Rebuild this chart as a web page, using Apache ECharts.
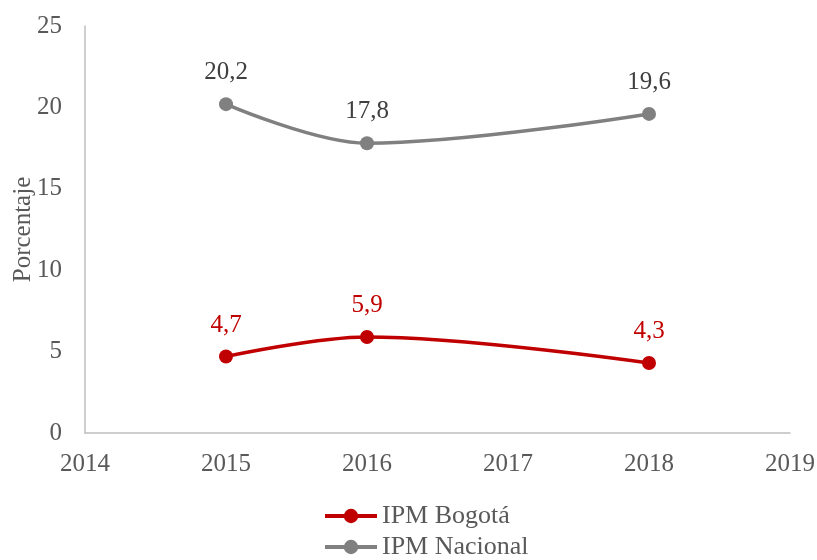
<!DOCTYPE html>
<html><head><meta charset="utf-8">
<script src="https://cdn.jsdelivr.net/npm/echarts@6/dist/echarts.min.js"></script>
<style>html,body{margin:0;padding:0;background:#fff}#c{width:817px;height:560px}</style>
</head><body><div id="c"></div>
<script>
const years = [2015, 2016, 2018];
const bogota = [4.7, 5.9, 4.3];
const nacional = [20.2, 17.8, 19.6];
const seriesNames = ['IPM Bogotá', 'IPM Nacional'];
const xTicks = {min: 2014, max: 2019, interval: 1};
const yTicks = {min: 0, max: 25, interval: 5};

const font = 'Liberation Serif';
const chart = echarts.init(document.getElementById('c'));
function mk(name, vals, color, labelColor) {
  return {
    name: name, type: 'line', smooth: 0.35,
    data: years.map((y, i) => [y, vals[i]]),
    symbol: 'circle', symbolSize: 14,
    lineStyle: {color: color, width: 3.5},
    itemStyle: {color: color},
    label: {show: true, position: 'top', distance: 12, color: labelColor,
      fontFamily: font, fontSize: 25,
      formatter: p => String(p.value[1]).replace('.', ',')}
  };
}
chart.setOption({
  animation: false,
  textStyle: {fontFamily: font},
  grid: {left: 85, right: 27, top: 26, bottom: 127, containLabel: false, outerBoundsMode: 'none'},
  xAxis: {type: 'value', min: xTicks.min, max: xTicks.max, interval: xTicks.interval,
    axisLine: {show: true, lineStyle: {color: '#bfbfbf', width: 1.5}},
    axisTick: {show: false}, splitLine: {show: false},
    axisLabel: {color: '#595959', fontSize: 25, fontFamily: font, margin: 19,
      formatter: v => String(v)}},
  yAxis: {type: 'value', min: yTicks.min, max: yTicks.max, interval: yTicks.interval,
    name: 'Porcentaje', nameLocation: 'middle', nameGap: 49, nameRotate: 90,
    nameMoveOverlap: false,
    nameTextStyle: {color: '#595959', fontSize: 25, fontFamily: font},
    axisLine: {show: true, lineStyle: {color: '#bfbfbf', width: 1.5}},
    axisTick: {show: false}, splitLine: {show: false},
    axisLabel: {color: '#595959', fontSize: 25, fontFamily: font, margin: 23}},
  legend: {orient: 'vertical', left: 323, top: 503, height: 120, itemGap: 5,
    itemWidth: 52, itemHeight: 18, padding: 0,
    lineStyle: {width: 4},
    textStyle: {color: '#595959', fontSize: 26, fontFamily: font},
    data: seriesNames},
  series: [mk(seriesNames[0], bogota, '#c00000', '#c00000'),
           mk(seriesNames[1], nacional, '#808080', '#404040')]
});
</script></body></html>
